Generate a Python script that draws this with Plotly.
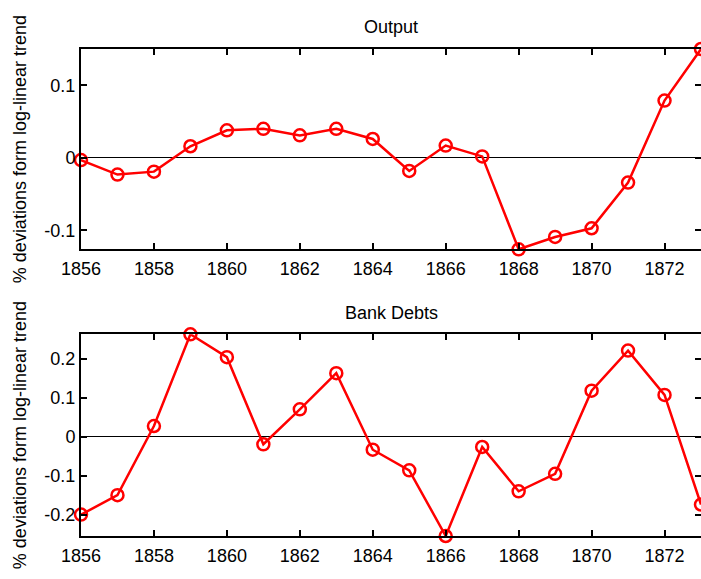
import plotly.graph_objects as go
from plotly.subplots import make_subplots

years = list(range(1856, 1874))
output = [-0.003, -0.023, -0.019, 0.016, 0.038, 0.040, 0.031, 0.040, 0.026,
          -0.018, 0.017, 0.002, -0.126, -0.109, -0.097, -0.034, 0.079, 0.150]
bank_debts = [-0.200, -0.150, 0.028, 0.264, 0.205, -0.019, 0.071, 0.164, -0.033,
              -0.086, -0.255, -0.026, -0.140, -0.095, 0.119, 0.222, 0.108, -0.174]

x_ticks = list(range(1856, 1873, 2))
top_yticks = [-0.1, 0, 0.1]
top_yticktext = ["-0.1", "0", "0.1"]
bot_yticks = [-0.2, -0.1, 0, 0.1, 0.2]
bot_yticktext = ["-0.2", "-0.1", "0", "0.1", "0.2"]

titles = ["Output", "Bank Debts"]
ylabel = "% deviations form log-linear trend"

FONT = "Liberation Sans, Arial, sans-serif"
FS = 18
RED = "#ff0000"

fig = make_subplots(rows=2, cols=1)

# invisible helper traces so the right-hand tick axes get drawn
fig.add_trace(go.Scatter(x=years, y=output, xaxis="x", yaxis="y3", mode="lines",
                         line=dict(width=0), opacity=0, hoverinfo="skip", showlegend=False))
fig.add_trace(go.Scatter(x=years, y=bank_debts, xaxis="x2", yaxis="y4", mode="lines",
                         line=dict(width=0), opacity=0, hoverinfo="skip", showlegend=False))

for row, series in ((1, output), (2, bank_debts)):
    fig.add_trace(go.Scatter(
        x=years, y=series, mode="lines+markers",
        line=dict(color=RED, width=2.5),
        marker=dict(symbol="circle-open", size=12, color=RED, line=dict(color=RED, width=2.5)),
        cliponaxis=False, showlegend=False), row=row, col=1)

top_dom = [0.5887, 1.0]
bot_dom = [0.0, 0.4142]

tick_common = dict(ticks="inside", ticklen=6, tickcolor="black", tickwidth=1.5,
                   tickfont=dict(family=FONT, size=FS, color="black"))
axis_common = dict(showgrid=False, showline=True, linecolor="black", linewidth=2, **tick_common)

fig.update_xaxes(range=[1856, 1873], tickvals=x_ticks, zeroline=False, mirror="ticks",
                 ticklabelstandoff=2, **axis_common)

top_range = [min(output), max(output)]
bot_range = [min(bank_debts), max(bank_debts)]

right_common = dict(side="right", showline=False, showgrid=False, zeroline=False,
                    showticklabels=False, **tick_common)

fig.update_layout(
    yaxis=dict(domain=top_dom, range=top_range, tickvals=top_yticks, ticktext=top_yticktext,
               zeroline=True, zerolinecolor="black", zerolinewidth=1.3, mirror=False,
               **axis_common),
    yaxis2=dict(domain=bot_dom, range=bot_range, tickvals=bot_yticks, ticktext=bot_yticktext,
                zeroline=True, zerolinecolor="black", zerolinewidth=1.3, mirror=False,
                **axis_common),
    yaxis3=dict(overlaying="y", anchor="x", range=top_range, tickvals=top_yticks,
                **right_common),
    yaxis4=dict(overlaying="y2", anchor="x2", range=bot_range, tickvals=bot_yticks,
                **right_common),
)

W, H = 701, 579
L, R, T, B = 81, 0, 49, 43
pw = W - L - R
ph = H - T - B

annotations = []
for dom, t, ypx in ((top_dom, titles[0], 27), (bot_dom, titles[1], 313)):
    annotations.append(dict(text=t, xref="paper", yref="paper",
                            x=0.5, y=(H - B - ypx) / ph, xanchor="center", yanchor="middle",
                            showarrow=False, font=dict(family=FONT, size=FS, color="black")))
    annotations.append(dict(text=ylabel, xref="paper", yref="paper",
                            x=(20 - L) / pw, y=(dom[0] + dom[1]) / 2,
                            xanchor="center", yanchor="middle", textangle=-90,
                            showarrow=False, font=dict(family=FONT, size=FS, color="black")))

fig.update_layout(
    width=W, height=H,
    margin=dict(l=L, r=R, t=T, b=B),
    plot_bgcolor="white", paper_bgcolor="white",
    annotations=annotations,
)

fig.write_html("out.html")
